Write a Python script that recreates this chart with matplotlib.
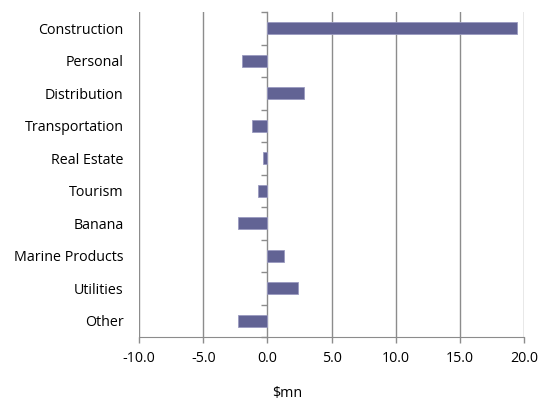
import numpy as np
import matplotlib
matplotlib.use('Agg')
import matplotlib.pyplot as plt

sectors = ['Construction', 'Personal', 'Distribution', 'Transportation', 'Real Estate',
           'Tourism', 'Banana', 'Marine Products', 'Utilities', 'Other']
change = [19.45, -2.0, 2.83, -1.17, -0.36, -0.7, -2.26, 1.3, 2.36, -2.26]
xticks = [-10, -5, 0, 5, 10, 15, 20]

plt.rcParams['font.family'] = ['Open Sans', 'DejaVu Sans']
plt.rcParams['font.size'] = 10.3

fig = plt.figure(figsize=(5.42, 4.0), dpi=100)
ax = fig.add_axes([139 / 542, 1 - 337 / 400, (524.3 - 139) / 542, (337 - 12) / 400])

y = np.arange(len(sectors))
ax.barh(y, change, height=0.37, color='#626394', edgecolor='#9a9ac0', linewidth=0.6, zorder=3)

ax.set_xlim(-10, 20)
ax.set_ylim(len(sectors) - 0.5, -0.5)
ax.set_xticks(xticks)
ax.set_xticklabels(['%.1f' % v for v in xticks])
ax.set_yticks(y)
ax.set_yticklabels(sectors)
ax.tick_params(axis='y', length=0, pad=11)
ax.tick_params(axis='x', direction='out', length=4, width=1, color='#8c8c8c', pad=6)

for v in xticks:
    if v != 0:
        ax.axvline(v, color='#8c8c8c', lw=1, zorder=1)

for side in ['top', 'right', 'left']:
    ax.spines[side].set_visible(False)
ax.spines['bottom'].set_color('#8c8c8c')

# category axis sits on zero
zero_axis = ax.secondary_yaxis(10 / 30)
zero_axis.set_yticks(np.arange(len(sectors) + 1) - 0.5)
zero_axis.set_yticklabels([])
zero_axis.tick_params(direction='out', length=4, width=1, color='#8c8c8c')
zero_axis.spines['left'].set_color('#8c8c8c')
zero_axis.spines['left'].set_linewidth(1)

fig.text(286.7 / 542, 1 - 393 / 400, r'\$mn', ha='center', va='center')

fig.savefig('out.png', dpi=100)
